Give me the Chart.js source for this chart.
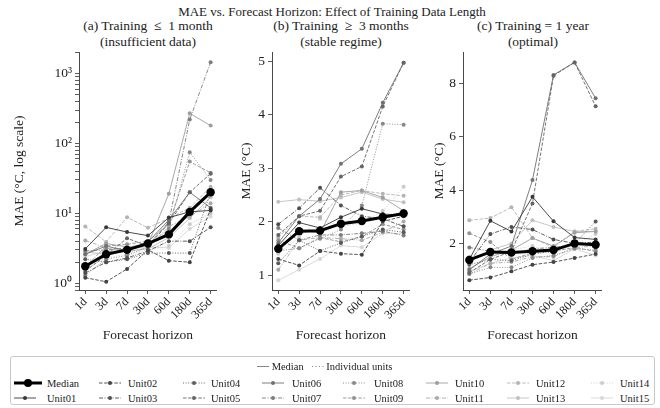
<!DOCTYPE html>
<html>
<head>
<meta charset="utf-8">
<script src="https://cdn.jsdelivr.net/npm/chart.js@4.4.0/dist/chart.umd.min.js"></script>
<style>
  body { margin: 0; width: 660px; height: 408px; position: relative; background: #fff; overflow: hidden;
         font-family: "Liberation Serif", "Times New Roman", serif; color: #222; }
  canvas { position: absolute; top: 0; }
  .t { position: absolute; transform: translate(-50%, -50%); white-space: nowrap; font-size: 13.5px; }
  #legend { position: absolute; left: 10px; top: 356px; width: 645px; height: 49px; border: 1px solid #c8c8c8;
            border-radius: 3px; box-sizing: border-box; font-size: 10.5px; }
  .item { position: absolute; display: flex; align-items: center; transform: translateY(-50%); white-space: nowrap; }
  .item svg { display: block; }
</style>
</head>
<body>
<div class="t" style="left:332px;top:12px;font-size:13px">MAE vs. Forecast Horizon: Effect of Training Data Length</div>
<div class="t" style="left:148px;top:26px">(a) Training &nbsp;≤ &nbsp;1 month</div>
<div class="t" style="left:148px;top:42px">(insufficient data)</div>
<div class="t" style="left:341px;top:26px">(b) Training &nbsp;≥ &nbsp;3 months</div>
<div class="t" style="left:341px;top:42px">(stable regime)</div>
<div class="t" style="left:533px;top:26px">(c) Training = 1 year</div>
<div class="t" style="left:533px;top:42px">(optimal)</div>

<canvas id="chartA" width="222" height="350" style="left:0px"></canvas>
<canvas id="chartB" width="215" height="350" style="left:200px"></canvas>
<canvas id="chartC" width="207" height="350" style="left:400px"></canvas>

<div id="legend"></div>

<script>
const horizons = ['1d', '3d', '7d', '30d', '60d', '180d', '365d'];
const unitNames = ['Unit01', 'Unit02', 'Unit03', 'Unit04', 'Unit05', 'Unit06', 'Unit07', 'Unit08',
                   'Unit09', 'Unit10', 'Unit11', 'Unit12', 'Unit13', 'Unit14', 'Unit15'];

// (a) training <= 1 month, MAE in degC (log axis)
const medianA = [1.75, 2.6, 3.0, 3.7, 5.0, 10.5, 20];
const unitsA = [
  [3.1, 6.3, 5.4, 4.8, 8.7, 10.5, 11.0],
  [1.2, 1.05, 1.6, 3.0, 2.1, 2.0, 11.5],
  [1.4, 2.0, 2.3, 2.9, 4.0, 4.0, 6.3],
  [2.2, 2.0, 2.2, 2.7, 2.7, 2.7, 20],
  [1.5, 2.5, 4.4, 3.4, 7.2, 20, 37],
  [2.6, 3.4, 2.9, 3.9, 8.0, 20, 12],
  [2.9, 3.0, 3.2, 3.5, 7.5, 220, 1450],
  [1.3, 2.2, 2.5, 3.3, 6.0, 75, 30],
  [1.7, 3.4, 3.6, 4.0, 7.0, 55, 38],
  [2.6, 3.7, 3.3, 3.6, 19, 270, 180],
  [4.1, 3.2, 2.8, 3.2, 6.5, 9, 14],
  [6.5, 3.9, 8.8, 6.2, 8.5, 12, 24],
  [2.8, 2.6, 2.9, 3.1, 4.5, 8.5, 17],
  [1.6, 2.3, 2.6, 3.0, 3.4, 7.0, 10],
  [2.4, 2.9, 3.1, 3.3, 3.2, 6.0, 9]
];

// (b) training >= 3 months
const medianB = [1.49, 1.82, 1.83, 1.96, 2.01, 2.08, 2.15];
const unitsB = [
  [1.55, 1.98, 1.88, 2.08, 2.24, 2.14, 2.12],
  [1.30, 1.18, 1.45, 1.40, 1.38, 2.00, 2.10],
  [1.95, 2.25, 2.63, 2.30, 2.10, 2.05, 1.91],
  [1.22, 1.65, 1.45, 1.60, 1.72, 1.85, 1.80],
  [1.75, 2.10, 2.20, 2.84, 3.03, 4.15, 4.97],
  [1.60, 2.10, 2.42, 3.08, 3.36, 4.22, 4.97],
  [1.88, 1.65, 1.75, 1.75, 1.78, 1.82, 1.74],
  [1.45, 1.50, 1.68, 1.85, 2.30, 3.83, 3.81],
  [1.65, 1.50, 1.70, 1.62, 1.72, 1.95, 1.85],
  [1.50, 1.85, 1.78, 2.55, 2.58, 2.45, 2.20],
  [1.10, 1.65, 1.70, 1.68, 1.65, 1.80, 2.00],
  [1.70, 2.10, 2.08, 2.50, 2.58, 2.52, 2.48],
  [2.37, 2.41, 2.38, 2.45, 2.55, 2.42, 2.36],
  [1.40, 1.70, 2.05, 1.90, 1.98, 2.20, 2.65],
  [0.90, 1.10, 1.30, 1.55, 1.52, 1.78, 1.78]
];

// (c) training = 1 year
const medianC = [1.38, 1.68, 1.66, 1.71, 1.75, 2.00, 1.95];
const unitsC = [
  [1.40, 2.85, 2.45, 3.75, 2.83, 2.22, 2.15],
  [0.62, 0.72, 0.95, 1.20, 1.30, 1.45, 1.60],
  [1.30, 2.35, 2.62, 2.52, 2.15, 2.00, 2.05],
  [1.20, 1.40, 1.35, 1.60, 1.70, 2.00, 2.82],
  [0.90, 1.40, 1.70, 3.50, 8.30, 8.80, 7.15],
  [1.00, 1.60, 1.90, 4.38, 8.33, 8.80, 7.45],
  [1.85, 1.70, 1.60, 1.80, 1.85, 1.95, 2.00],
  [0.85, 1.10, 1.10, 1.45, 1.55, 1.80, 1.75],
  [2.38, 2.05, 1.40, 1.65, 1.70, 1.85, 1.70],
  [1.05, 1.50, 1.75, 2.20, 1.90, 2.40, 2.45],
  [0.85, 1.25, 1.30, 1.50, 1.50, 1.85, 1.90],
  [2.87, 2.95, 3.36, 2.20, 1.85, 2.45, 2.55],
  [1.30, 1.75, 2.00, 2.87, 2.62, 2.45, 2.45],
  [1.50, 1.60, 1.75, 1.90, 1.65, 1.95, 2.35],
  [0.95, 1.25, 1.45, 1.55, 1.35, 1.80, 1.55]
];

const ticksB = [1, 2, 3, 4, 5];
const ticksC = [2, 4, 6, 8];
const logMajor = [1, 10, 100, 1000];
const logLabels = ['10\u2070', '10\u00b9', '10\u00b2', '10\u00b3'];

// line styles per unit
const unitStyles = ['-', '--', '-.', ':', '--', '-', '-.', ':', '--', '-', '-.', '--', '-', ':', '-'];
const dashes = { '-': [], '--': [3.5, 1.6], '-.': [4, 1.5, 1, 1.5], ':': [1, 1.6] };

function unitColor(i) {
  const g = Math.round(255 * (0.22 + 0.62 * i / 14));
  return `rgb(${g},${g},${g})`;
}

const fontFamily = '"Liberation Serif", "Times New Roman", serif';
Chart.defaults.font.family = fontFamily;
Chart.defaults.color = '#222';

function makeDatasets(median, units) {
  const sets = [{
    label: 'Median',
    data: median.map((v, j) => ({ x: j, y: v })),
    borderColor: '#000', backgroundColor: '#000',
    borderWidth: 3, pointRadius: 4.2, pointBorderWidth: 0, pointBackgroundColor: '#000'
  }];
  units.forEach((vals, i) => {
    const c = unitColor(i);
    sets.push({
      label: unitNames[i],
      data: vals.map((v, j) => ({ x: j, y: v })),
      borderColor: c, backgroundColor: c, pointBackgroundColor: c,
      borderWidth: 0.9, borderDash: dashes[unitStyles[i]],
      pointRadius: 2, pointBorderWidth: 0
    });
  });
  return sets;
}

function makePanel(id, median, units, yCfg, padLeft, yWidth, yTitle) {
  const axisColor = '#333';
  new Chart(document.getElementById(id), {
    type: 'line',
    data: { datasets: makeDatasets(median, units) },
    options: {
      responsive: false, animation: false,
      layout: { padding: { left: padLeft, right: 4, top: 52, bottom: 0 } },
      plugins: { legend: { display: false }, tooltip: { enabled: false } },
      elements: { line: { tension: 0 } },
      scales: {
        x: {
          type: 'linear', min: -0.3, max: 6.3,
          afterBuildTicks: s => { s.ticks = horizons.map((h, j) => ({ value: j })); },
          afterFit: s => { s.height = 60; },
          ticks: { autoSkip: false, maxRotation: 45, minRotation: 45, padding: 1,
                   font: { size: 12 }, color: '#222', callback: v => horizons[v] },
          grid: { drawOnChartArea: false, drawTicks: true, tickLength: 4, tickColor: axisColor, tickWidth: 0.8 },
          border: { color: axisColor, width: 0.9 },
          title: { display: true, text: 'Forecast horizon', font: { size: 13.5 }, color: '#222',
                   padding: { top: 0, bottom: 6 } }
        },
        y: Object.assign({
          afterFit: s => { s.width = yWidth; },
          grid: { drawOnChartArea: false, drawTicks: true, tickLength: 4, tickColor: axisColor, tickWidth: 0.8 },
          border: { color: axisColor, width: 0.9 },
          title: { display: true, text: yTitle, font: { size: 13.5 }, color: '#222', padding: { top: 0, bottom: 0 } }
        }, yCfg)
      }
    }
  });
}

// log-scale tick positions (1..9 per decade)
const logTicks = [];
[0.1, 1, 10, 100, 1000].forEach(d => {
  for (let k = 1; k <= 9; k++) logTicks.push(+(d * k).toPrecision(3));
});

makePanel('chartA', medianA, unitsA, {
  type: 'logarithmic', min: 0.8, max: 2035,
  afterBuildTicks: s => { s.ticks = logTicks.filter(v => v >= 0.8 && v <= 2035).map(v => ({ value: v })); },
  ticks: { autoSkip: false, padding: 3, font: { size: 13.5 }, color: '#222',
           callback: v => { const k = logMajor.indexOf(v); return k >= 0 ? logLabels[k] : ''; } }
}, 11, 68, 'MAE (\u00b0C, log scale)');

makePanel('chartB', medianB, unitsB, {
  type: 'linear', min: 0.72, max: 5.17,
  afterBuildTicks: s => { s.ticks = ticksB.map(v => ({ value: v })); },
  ticks: { autoSkip: false, padding: 3, font: { size: 13.5 }, color: '#222', callback: v => String(v) }
}, 38, 34, 'MAE (\u00b0C)');

makePanel('chartC', medianC, unitsC, {
  type: 'linear', min: 0.25, max: 9.19,
  afterBuildTicks: s => { s.ticks = ticksC.map(v => ({ value: v })); },
  ticks: { autoSkip: false, padding: 3, font: { size: 13.5 }, color: '#222', callback: v => String(v) }
}, 31, 32, 'MAE (\u00b0C)');

// legend (HTML, swatches drawn as small svg lines)
const legend = document.getElementById('legend');
const colSample = [3, 88, 172, 251, 332, 415, 496, 580];
const colText = [36, 117, 200, 281, 363, 444, 525, 609];
const rowY = [25.5, 41];

function swatch(color, dash, lw, r, w) {
  const da = dash.length ? `stroke-dasharray="${dash.join(' ')}"` : '';
  return `<svg width="${w}" height="10"><line x1="0" y1="5" x2="${w}" y2="5" stroke="${color}" stroke-width="${lw}" ${da}/>` +
         `<circle cx="${w / 2}" cy="5" r="${r}" fill="${color}"/></svg>`;
}
function addItem(col, row, html, text) {
  const s = document.createElement('div');
  s.className = 'item';
  s.style.left = colSample[col] + 'px';
  s.style.top = rowY[row] + 'px';
  s.innerHTML = html;
  legend.appendChild(s);
  const t = document.createElement('div');
  t.className = 'item';
  t.style.left = colText[col] + 'px';
  t.style.top = rowY[row] + 'px';
  t.textContent = text;
  legend.appendChild(t);
}
addItem(0, 0, swatch('#000', [], 3, 4, 28), 'Median');
unitNames.forEach((n, i) => {
  const slot = i + 1;
  addItem(Math.floor(slot / 2), slot % 2, swatch(unitColor(i), dashes[unitStyles[i]], 0.9, 2, 22), n);
});
const head = document.createElement('div');
head.className = 'item';
head.style.left = '246px';
head.style.top = '9px';
head.style.fontSize = '10.5px';
head.innerHTML = swatch('#777', [], 0.9, 0, 12) + '&nbsp;Median&nbsp;&nbsp;&nbsp;' +
                 swatch('#777', [1, 2.5], 0.9, 0, 12) + '&nbsp;Individual units';
legend.appendChild(head);
</script>
</body>
</html>
